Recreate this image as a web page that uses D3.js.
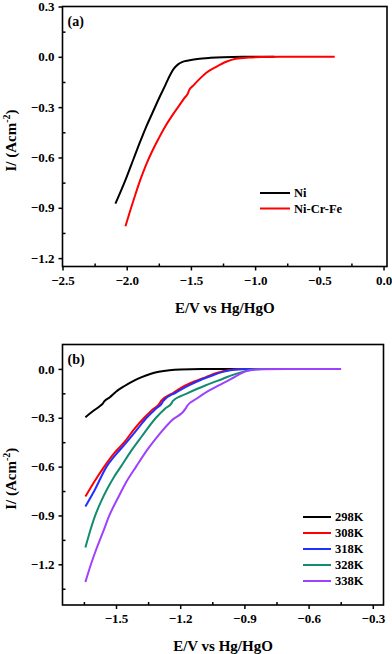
<!DOCTYPE html>
<html>
<head>
<meta charset="utf-8">
<script src="https://cdn.jsdelivr.net/npm/d3@7"></script>
<style>
  html, body { margin: 0; padding: 0; background: #fff; }
  svg { display: block; }
  text { font-family: "Liberation Serif", "Times New Roman", serif; font-weight: bold; fill: #000; }
</style>
</head>
<body>
<svg id="chart" width="392" height="654"></svg>
<script>
// panel (a): E (V vs Hg/HgO), I (A cm-2)
var niData = [[-2.088,-0.875],[-2.04,-0.79],[-2.0,-0.715],[-1.95,-0.615],[-1.9,-0.515],[-1.85,-0.42],[-1.8,-0.335],[-1.75,-0.25],[-1.7,-0.17],[-1.66,-0.105],[-1.63,-0.068],[-1.6,-0.045],[-1.57,-0.032],[-1.52,-0.022],[-1.45,-0.013],[-1.35,-0.006],[-1.25,-0.002],[-1.1,0],[-0.85,0]];
var niCrFeData = [[-2.01,-1.01],[-1.97,-0.91],[-1.93,-0.815],[-1.89,-0.725],[-1.85,-0.645],[-1.8,-0.56],[-1.75,-0.485],[-1.7,-0.415],[-1.65,-0.355],[-1.6,-0.3],[-1.55,-0.245],[-1.52,-0.212],[-1.515,-0.2],[-1.48,-0.17],[-1.43,-0.13],[-1.38,-0.095],[-1.3,-0.058],[-1.22,-0.028],[-1.15,-0.012],[-1.05,-0.004],[-0.95,-0.001],[-0.8,0],[-0.38,0]];
var seriesA = ["Ni", "Ni-Cr-Fe"];
var colorsA = ["#000000", "#ff0000"];

// panel (b): temperature series
var t298 = [[-1.643,-0.297],[-1.61,-0.262],[-1.575,-0.228],[-1.562,-0.213],[-1.555,-0.2],[-1.53,-0.175],[-1.5,-0.14],[-1.46,-0.105],[-1.42,-0.075],[-1.38,-0.05],[-1.34,-0.031],[-1.3,-0.018],[-1.25,-0.008],[-1.2,-0.003],[-1.1,0],[-0.45,0]];
var t308 = [[-1.643,-0.784],[-1.6,-0.69],[-1.555,-0.6],[-1.51,-0.52],[-1.461,-0.45],[-1.415,-0.37],[-1.368,-0.3],[-1.33,-0.25],[-1.295,-0.21],[-1.29,-0.198],[-1.23,-0.145],[-1.173,-0.1],[-1.12,-0.07],[-1.08,-0.05],[-1.03,-0.025],[-0.97,-0.006],[-0.9,-0.001],[-0.8,0],[-0.45,0]];
var t318 = [[-1.643,-0.845],[-1.6,-0.745],[-1.544,-0.6],[-1.5,-0.525],[-1.45,-0.45],[-1.4,-0.37],[-1.357,-0.3],[-1.31,-0.24],[-1.285,-0.21],[-1.28,-0.198],[-1.22,-0.145],[-1.157,-0.1],[-1.1,-0.065],[-1.05,-0.04],[-1.0,-0.018],[-0.95,-0.005],[-0.88,0],[-0.45,0]];
var t328 = [[-1.643,-1.097],[-1.622,-1.0],[-1.6,-0.91],[-1.57,-0.815],[-1.54,-0.735],[-1.51,-0.665],[-1.477,-0.6],[-1.43,-0.505],[-1.38,-0.415],[-1.313,-0.3],[-1.27,-0.243],[-1.24,-0.21],[-1.235,-0.198],[-1.17,-0.152],[-1.12,-0.122],[-1.08,-0.1],[-1.0,-0.06],[-0.95,-0.035],[-0.9,-0.015],[-0.86,-0.003],[-0.8,0],[-0.45,0]];
var t338 = [[-1.643,-1.309],[-1.617,-1.2],[-1.59,-1.1],[-1.56,-1.0],[-1.531,-0.9],[-1.49,-0.79],[-1.45,-0.69],[-1.406,-0.6],[-1.35,-0.49],[-1.297,-0.4],[-1.24,-0.317],[-1.173,-0.24],[-1.168,-0.228],[-1.12,-0.18],[-1.07,-0.137],[-1.017,-0.1],[-0.96,-0.06],[-0.92,-0.03],[-0.88,-0.01],[-0.82,-0.002],[-0.7,0],[-0.448,0]];
var seriesB = ["298K", "308K", "318K", "328K", "338K"];
var colorsB = ["#000000", "#ff0000", "#2030ff", "#128c6e", "#a040ff"];

var xTicksA = [-2.5, -2.0, -1.5, -1.0, -0.5, 0.0];
var yTicksA = [0.3, 0.0, -0.3, -0.6, -0.9, -1.2];
var xTicksB = [-1.5, -1.2, -0.9, -0.6, -0.3];
var yTicksB = [0.0, -0.3, -0.6, -0.9, -1.2];

var svg = d3.select("#chart");

function drawPanel(opt) {
  var x = d3.scaleLinear().domain(opt.xDomain).range([opt.left, opt.right]),
    y = d3.scaleLinear().domain(opt.yDomain).range([opt.bottom, opt.top]),
    g = svg.append("g"),
    fmt = d3.format(".1f"),
    line = d3.line()
      .curve(d3.curveMonotoneX)
      .x(function(d) { return x(d[0]); })
      .y(function(d) { return y(d[1]); });

  // minor ticks (inside)
  g.append("g")
    .attr("transform", "translate(0," + opt.bottom + ")")
    .call(d3.axisBottom(x).tickValues(opt.xMinor).tickSize(-3).tickFormat(""))
    .call(function(s) { s.select(".domain").remove(); });
  g.append("g")
    .attr("transform", "translate(" + opt.left + ",0)")
    .call(d3.axisLeft(y).tickValues(opt.yMinor).tickSize(-3).tickFormat(""))
    .call(function(s) { s.select(".domain").remove(); });

  // major ticks (outside) with labels
  g.append("g")
    .attr("class", "xaxis")
    .attr("transform", "translate(0," + opt.bottom + ")")
    .call(d3.axisBottom(x).tickValues(opt.xTicks).tickSize(4).tickPadding(5).tickFormat(fmt))
    .call(function(s) { s.select(".domain").remove(); });
  g.append("g")
    .attr("class", "yaxis")
    .attr("transform", "translate(" + opt.left + ",0)")
    .call(d3.axisLeft(y).tickValues(opt.yTicks).tickSize(4).tickPadding(4).tickFormat(fmt))
    .call(function(s) { s.select(".domain").remove(); });

  g.selectAll(".tick line").attr("stroke", "#000").attr("stroke-width", 1.5);
  g.selectAll(".tick text")
    .style("font-family", "'Liberation Serif', serif")
    .style("font-weight", "bold")
    .style("font-size", "13px")
    .attr("fill", "#000");

  // curves
  var clipId = "clip" + opt.id;
  g.append("clipPath").attr("id", clipId)
    .append("rect")
    .attr("x", opt.left).attr("y", opt.top)
    .attr("width", opt.right - opt.left).attr("height", opt.bottom - opt.top);

  g.append("g").attr("clip-path", "url(#" + clipId + ")")
    .selectAll("path")
    .data(opt.series)
    .enter()
    .append("path")
    .attr("d", function(d) { return line(d.values); })
    .attr("fill", "none")
    .attr("stroke", function(d) { return d.color; })
    .attr("stroke-width", 2)
    .attr("stroke-linejoin", "round");

  // frame
  g.append("rect")
    .attr("x", opt.left).attr("y", opt.top)
    .attr("width", opt.right - opt.left).attr("height", opt.bottom - opt.top)
    .attr("fill", "none").attr("stroke", "#000").attr("stroke-width", 1.6);

  // panel label
  g.append("text")
    .attr("x", opt.left + 5).attr("y", opt.top + 19)
    .style("font-size", "14px")
    .text(opt.name);

  // axis titles
  g.append("text")
    .attr("x", (opt.left + opt.right) / 2).attr("y", opt.bottom + 46)
    .attr("text-anchor", "middle")
    .style("font-size", "15px")
    .text("E/V vs Hg/HgO");

  var yt = g.append("text")
    .attr("transform", "translate(16," + ((opt.top + opt.bottom) / 2 + 4) + ") rotate(-90)")
    .attr("text-anchor", "middle")
    .style("font-size", "15px");
  yt.append("tspan").text("I/ (Acm");
  yt.append("tspan").attr("dy", -6).style("font-size", "10px").text("-2");
  yt.append("tspan").attr("dy", 6).text(")");

  // legend
  var lg = g.append("g")
    .selectAll("g")
    .data(opt.series)
    .enter()
    .append("g")
    .attr("transform", function(d, i) {
      return "translate(" + opt.legendX + "," + (opt.legendY + i * opt.legendStep) + ")";
    });
  lg.append("line")
    .attr("x1", 0).attr("x2", opt.legendLen)
    .attr("stroke", function(d) { return d.color; })
    .attr("stroke-width", 2);
  lg.append("text")
    .attr("x", opt.legendLen + 4).attr("dy", "0.35em")
    .style("font-size", "12.5px")
    .text(function(d) { return d.label; });
}

drawPanel({
  id: "a", name: "(a)",
  left: 62.5, right: 387, top: 6.5, bottom: 266.5,
  xDomain: [-2.5, 0.027], yDomain: [-1.25, 0.3],
  xTicks: xTicksA, yTicks: yTicksA,
  xMinor: [-2.25, -1.75, -1.25, -0.75, -0.25],
  yMinor: [0.15, -0.15, -0.45, -0.75, -1.05],
  series: [
    { label: seriesA[0], color: colorsA[0], values: niData },
    { label: seriesA[1], color: colorsA[1], values: niCrFeData }
  ],
  legendX: 260, legendY: 193, legendStep: 15.5, legendLen: 30
});

drawPanel({
  id: "b", name: "(b)",
  left: 62.5, right: 383.5, top: 344.5, bottom: 605,
  xDomain: [-1.75, -0.25], yDomain: [-1.45, 0.15],
  xTicks: xTicksB, yTicks: yTicksB,
  xMinor: [-1.65, -1.35, -1.05, -0.75, -0.45],
  yMinor: [-0.15, -0.45, -0.75, -1.05, -1.35],
  series: [
    { label: seriesB[0], color: colorsB[0], values: t298 },
    { label: seriesB[1], color: colorsB[1], values: t308 },
    { label: seriesB[2], color: colorsB[2], values: t318 },
    { label: seriesB[3], color: colorsB[3], values: t328 },
    { label: seriesB[4], color: colorsB[4], values: t338 }
  ],
  legendX: 303, legendY: 517, legendStep: 16, legendLen: 28
});
</script>
</body>
</html>
